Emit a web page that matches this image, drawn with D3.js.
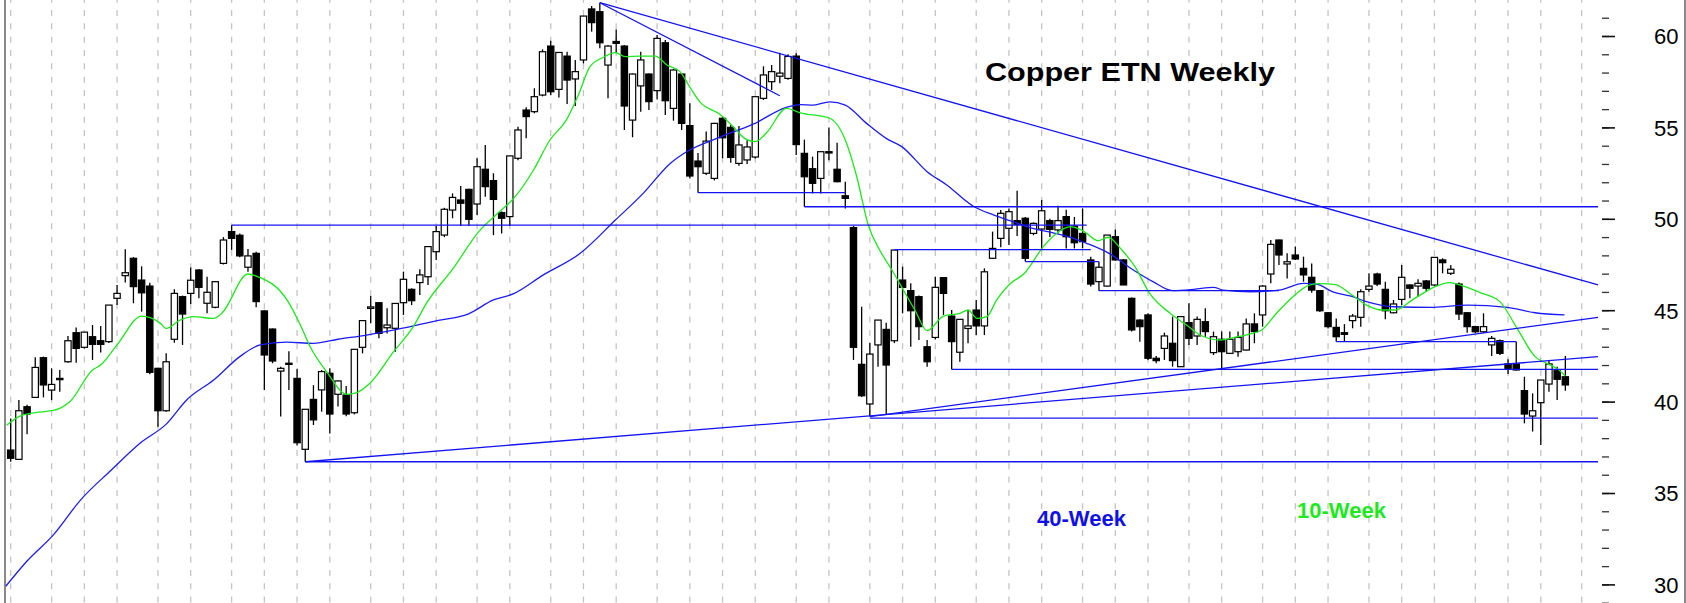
<!DOCTYPE html>
<html>
<head>
<meta charset="utf-8">
<script src="https://cdn.jsdelivr.net/npm/d3@7"></script>
<style>
  html, body { margin: 0; padding: 0; background: #fff; }
  svg { display: block; font-family: "Liberation Sans", Arial, sans-serif; }
</style>
</head>
<body>
<svg id="chart" width="1686" height="603"></svg>
<script>
// weekly candles
const opens = [37.35,36.84,39.72,40.23,42.4,40.63,41.27,42.18,43.77,42.97,43.55,43.33,43.28,45.65,46.89,47.84,46.65,46.32,41.82,39.5,
  43.41,45.74,45.92,47.2,45.38,45.16,47.56,49.3,49.1,47.35,48.11,44.96,43.97,41.67,42.05,41.27,37.39,40.12,40.64,41.55,
  40.4,40.36,39.39,42.97,45.1,45.41,44.04,44.01,45.41,46.14,46.51,46.83,48.2,49.11,50.48,51.03,51.61,50.81,52.71,52.09,
  50.34,50.12,53.31,55.95,55.86,56.77,59.45,57.08,58.9,57.65,58.69,61.48,61.33,58.41,59.7,59.45,55.4,57.27,57.92,57.01,
  59.63,56.04,57.92,55.1,53.16,52.49,52.21,55.5,55.0,53.03,53.22,53.38,56.59,57.5,57.8,57.68,58.9,53.58,52.74,52.21,
  53.67,52.71,51.26,49.52,42.04,39.87,43.1,43.95,43.33,46.65,46.07,45.74,43.0,43.51,46.78,44.68,42.7,44.0,45.01,44.14,
  47.84,48.93,49.48,49.9,50.03,49.2,49.44,49.9,49.39,50.12,49.6,49.2,47.75,46.56,46.32,49.02,47.75,45.65,44.46,44.74,
  42.37,42.91,43.19,41.91,44.32,43.59,44.37,42.68,43.41,42.64,42.73,42.82,44.25,44.74,46.98,48.84,47.53,48.02,47.29,46.8,
  46.07,44.86,44.06,43.77,44.43,44.61,46.14,46.98,46.14,44.86,45.59,46.38,46.32,46.6,46.38,47.75,47.02,46.43,44.86,44.1,
  43.82,43.1,43.33,42.06,42.06,40.6,39.21,39.94,40.96,41.69,41.36];
const highs = [39.08,40.09,39.83,42.42,42.46,41.82,41.73,43.59,44.06,43.8,44.19,44.14,45.28,46.38,48.33,47.9,47.4,46.5,41.85,42.64,
  46.14,45.8,47.33,47.25,46.83,46.6,49.0,49.65,49.2,48.35,48.2,45.0,44.0,41.9,42.75,41.8,39.6,40.9,41.73,41.82,
  41.15,40.85,42.86,44.45,45.78,45.45,45.1,45.4,47.11,46.2,47.24,48.5,49.6,50.6,51.39,51.79,51.65,53.31,54.04,52.49,
  50.4,53.45,55.04,56.1,57.14,59.27,59.74,59.1,59.14,58.69,61.1,61.64,61.82,59.5,60.36,59.5,57.95,59.14,57.95,60.05,
  59.78,58.2,57.95,56.32,53.6,54.77,55.25,55.6,55.13,55.08,54.3,56.7,58.34,58.41,59.09,59.0,59.05,54.33,53.4,53.67,
  55.0,54.16,52.03,49.6,45.19,43.22,44.46,44.32,48.29,47.38,46.47,45.8,43.37,46.83,46.8,45.01,44.5,45.01,45.56,47.29,
  49.3,50.48,50.57,51.54,50.1,49.8,51.03,50.0,50.72,50.5,50.1,50.57,47.93,47.65,49.11,49.42,47.8,45.7,44.5,44.83,
  42.5,43.77,44.65,44.65,45.38,44.65,45.1,43.83,43.83,43.83,43.83,44.55,44.83,46.38,48.84,48.86,48.11,48.48,47.93,47.56,
  46.1,44.9,44.55,44.24,44.79,46.14,47.02,47.05,46.56,45.56,47.47,46.4,46.69,46.65,47.89,47.84,47.47,46.51,44.9,44.15,
  44.83,43.59,43.4,42.31,43.28,41.36,40.45,41.18,42.28,41.91,42.49];
const lows = [36.71,36.8,38.21,40.2,40.23,40.09,40.54,42.13,42.13,42.9,42.28,42.68,43.2,45.28,46.51,45.38,44.92,41.5,38.63,39.45,
  43.22,43.1,45.34,45.65,44.83,45.1,47.5,48.3,47.9,47.1,45.16,40.63,42.1,39.18,40.63,37.6,36.71,38.72,39.45,38.26,
  39.73,39.2,39.3,42.64,44.28,43.46,43.73,42.73,44.74,45.28,45.83,46.38,47.75,49.0,50.03,49.6,49.6,50.21,51.21,49.11,
  49.2,49.6,53.2,54.4,55.77,56.7,56.77,56.64,56.28,56.17,58.5,60.24,59.33,56.59,59.09,54.86,54.46,55.86,55.95,56.53,
  55.68,55.37,54.86,52.2,51.43,52.4,52.1,53.31,53.07,52.9,53.0,53.3,56.5,57.05,57.41,57.6,53.49,50.66,51.39,51.39,
  53.2,52.0,50.57,42.28,40.25,39.18,41.9,39.27,43.2,44.83,43.0,43.37,41.9,43.4,44.74,41.76,42.18,43.19,43.64,43.64,
  47.8,48.44,48.57,49.06,47.66,49.1,48.29,49.0,49.2,48.38,48.38,48.38,46.29,46.07,46.3,47.7,46.38,43.83,43.28,42.28,
  42.1,42.28,41.91,41.9,43.1,43.1,43.55,42.55,41.82,42.6,42.46,42.8,43.19,44.1,46.47,47.47,46.74,47.75,46.56,45.96,
  44.9,44.0,43.28,43.28,44.01,44.1,46.01,46.32,44.5,44.83,45.28,45.65,45.74,46.0,46.3,47.02,46.93,44.46,43.77,43.75,
  43.75,42.49,42.55,41.51,41.7,38.81,38.36,37.63,40.54,40.09,40.6];
const closes = [36.9,39.5,39.32,41.87,40.91,40.94,41.2,43.33,42.91,43.8,43.13,43.13,45.28,45.92,47.05,46.29,45.95,41.6,39.5,42.18,
  45.92,44.79,46.64,46.25,45.98,46.56,48.84,48.93,47.97,47.97,45.47,42.55,42.22,41.82,42.1,37.75,39.58,39.0,41.64,39.32,
  41.13,39.32,42.86,44.43,45.18,43.73,44.19,45.37,46.69,45.52,46.93,48.48,49.3,50.52,51.17,50.85,49.97,52.85,51.76,51.06,
  50.03,53.44,54.86,55.59,56.68,59.14,56.95,59.1,57.59,58.05,61.09,60.73,59.63,59.45,59.6,56.17,57.92,58.69,56.41,59.87,
  56.46,58.14,55.22,52.34,52.85,54.25,55.22,54.43,53.36,54.04,53.93,56.68,57.87,58.05,57.97,58.88,54.06,52.3,51.94,53.67,
  53.6,52.03,51.12,42.97,40.32,42.6,44.46,42.0,48.29,46.25,44.97,44.1,42.18,46.25,45.92,43.28,44.5,44.14,44.14,47.1,
  48.38,50.3,50.39,49.7,47.84,49.75,50.44,49.42,49.9,49.02,48.69,48.75,46.43,47.35,49.11,47.75,46.38,43.92,44.1,42.37,
  42.24,43.59,42.24,44.65,43.46,44.5,43.83,43.55,42.73,43.41,43.51,44.25,43.83,46.32,48.6,48.02,47.65,47.8,46.93,46.1,
  44.97,44.1,43.55,43.68,44.68,46.01,46.32,46.43,44.97,45.34,46.8,46.2,46.47,46.2,47.89,47.6,47.24,44.79,44.1,43.82,
  44.1,43.46,42.64,41.82,41.73,39.32,39.5,41.18,42.06,41.22,40.91];

// first week of each month (dashed grid)
const monthStarts = [0,5,9,13,18,22,27,31,35,39,44,48,52,57,61,66,70,74,79,83,87,91,96,100,105,109,113,118,122,126,
  131,135,139,144,148,153,157,161,166,170,174,179,183,187,192];

// moving averages: [week, value]
const ma10 = [[-0.5,38.7],[1,39.18],[3,39.4],[5,39.5],[6,39.63],[7.25,40.0],[10,41.73],[11,42.0],[13,43.1],[16,44.68],
  [18.3,44.28],[19,44.0],[20.7,44.46],[22.3,44.65],[24.8,44.55],[25.8,44.83],[29,46.98],[30,46.87],[33.9,45.47],[35.4,44.19],
  [36.6,43.0],[38.6,41.64],[41.1,40.4],[42.3,40.49],[43.9,41.0],[46.8,42.73],[49.2,44.1],[50.8,45.37],[54.1,47.3],[57.2,49.3],
  [59.9,50.45],[61.4,51.08],[63.9,52.67],[65.9,54.31],[67.9,55.4],[69.4,56.8],[70.8,58.32],[72.5,58.85],[73.9,59.09],[75.1,58.87],
  [76.9,58.9],[78.8,58.9],[80.2,58.41],[81.8,58.05],[83.0,57.2],[84.2,56.41],[86.7,55.7],[88.3,55.04],[89.7,54.4],[91,54.22],
  [92.4,54.72],[94.8,56.04],[96.5,55.8],[100.1,55.5],[102,54.31],[103.4,52.3],[104.8,49.66],[106.2,48.29],[107.7,47.2],[109.1,46.1],
  [110.5,45.01],[112,43.88],[114,44.68],[116,44.83],[117,45.01],[118.1,44.55],[119.3,44.65],[120.5,45.56],[122.1,46.43],[123.9,47.02],
  [126.2,48.48],[127.8,49.2],[129.5,49.57],[130.7,49.42],[131.5,49.2],[132.9,48.8],[134.1,48.99],[135.8,48.29],[137.4,47.38],[139.2,45.92],
  [141.7,44.83],[143.7,44.19],[145.6,43.59],[147.8,43.37],[149.6,43.51],[151.5,43.7],[152.9,43.92],[154.7,44.83],[156.7,45.74],[158.8,46.38],
  [160,46.45],[161.9,46.4],[163.7,45.9],[165.7,45.28],[167.6,45.01],[169.2,45.01],[171.4,45.59],[173.9,46.25],[175.9,46.51],[177.1,46.38],
  [179.6,45.96],[182,45.47],[184.1,44.01],[186.3,42.46],[187.9,42.06],[189.1,41.77],[190,41.4]];
const ma40 = [[-0.6,29.9],[2,31.28],[5.3,32.75],[8.5,34.6],[12.3,36.26],[15.8,37.72],[19.1,38.81],[21.5,40.09],[24.8,41.18],[28,42.46],
  [30.5,43.1],[33.7,43.25],[37,43.19],[40,43.41],[43.5,43.64],[47.2,43.95],[52.1,44.43],[55.9,44.79],[59,45.56],[61.4,45.89],
  [65.1,46.93],[69.6,48.11],[73.9,49.93],[77.3,51.39],[80.6,53.03],[82.6,53.67],[86.3,54.4],[90.8,55.19],[94.8,56.1],[96.5,56.25],
  [98.1,56.22],[100.1,56.4],[102,56.22],[104.6,55.22],[107,54.4],[108.9,53.95],[112,52.58],[114.4,51.85],[117.6,50.7],[120.1,50.21],
  [122.5,49.84],[124.9,49.48],[127.5,49.22],[129.5,48.99],[131.5,48.66],[134.4,48.07],[137.2,47.2],[139.6,46.56],[142,46.07],[144.6,46.14],
  [147,46.25],[148.2,46.1],[151.5,46.01],[155,46.1],[158,46.47],[159.6,46.43],[161.6,46.0],[163.7,45.78],[165.7,45.47],[169,45.19],
  [173.9,45.16],[178,45.28],[182.9,45.16],[186.3,44.86],[189.9,44.74]];

// hand-drawn support / resistance lines: [[week, price], [week, price]]
const trendLines = [
  [[27,49.65],[131.5,49.65]],
  [[84,51.43],[102,51.43]],
  [[97,50.66],[194,50.66]],
  [[108,48.31],[132,48.31]],
  [[124,47.66],[133,47.66]],
  [[133,46.07],[155,46.07]],
  [[115,41.76],[194,41.76]],
  [[105,39.1],[194,39.1]],
  [[36,36.71],[194,36.71]],
  [[162,43.28],[184,43.28]],
  [[36,36.71],[194,42.46]],
  [[105,39.18],[194,44.61]],
  [[72,61.82],[194,46.38]],
  [[72,61.82],[94,56.73]]
];

const priceTicks = [30, 35, 40, 45, 50, 55, 60];
const minorTicks = d3.range(29, 62);

const svg = d3.select('#chart');
const W = 1686, H = 603;

const x = d3.scaleLinear().domain([0, 192]).range([10.7, 1581.7]);
const y = d3.scaleLinear().domain([30, 60]).range([584.4, 36]);

const candles = opens.map((o, i) => ({i, o, h: highs[i], l: lows[i], c: closes[i]}));

svg.append('defs').append('clipPath').attr('id', 'plot')
  .append('rect').attr('x', 5).attr('y', 0).attr('width', 1596).attr('height', H);

// dashed monthly grid
svg.append('g').selectAll('line')
  .data(monthStarts)
  .enter().append('line')
  .attr('x1', d => x(d)).attr('x2', d => x(d))
  .attr('y1', 0).attr('y2', H)
  .attr('stroke', '#c4c4c4')
  .attr('stroke-width', 1.3)
  .attr('stroke-dasharray', '6,7.33')
  .attr('stroke-dashoffset', 3.3);

// borders
svg.append('line').attr('x1', 5).attr('x2', 5).attr('y1', 0).attr('y2', H)
  .attr('stroke', '#8a8a8a').attr('stroke-width', 2);
svg.append('line').attr('x1', 1685).attr('x2', 1685).attr('y1', 0).attr('y2', H)
  .attr('stroke', '#8a8a8a').attr('stroke-width', 2);

const plot = svg.append('g').attr('clip-path', 'url(#plot)');

// candles
const bw = 6.3;
const cg = plot.append('g');
cg.selectAll('.wick')
  .data(candles)
  .enter().append('line')
  .attr('class', 'wick')
  .attr('x1', d => x(d.i)).attr('x2', d => x(d.i))
  .attr('y1', d => y(d.h)).attr('y2', d => y(d.l))
  .attr('stroke', '#000')
  .attr('stroke-width', 1.3);
cg.selectAll('.body')
  .data(candles)
  .enter().append('rect')
  .attr('class', 'body')
  .attr('x', d => x(d.i) - bw / 2)
  .attr('y', d => y(Math.max(d.o, d.c)))
  .attr('width', bw)
  .attr('height', d => Math.max(1.2, Math.abs(y(d.o) - y(d.c))))
  .attr('fill', d => d.c >= d.o ? '#fff' : '#000')
  .attr('stroke', '#000')
  .attr('stroke-width', 1.2);

// moving averages
const maLine = d3.line()
  .x(d => x(d[0]))
  .y(d => y(d[1]))
  .curve(d3.curveMonotoneX);

plot.append('path')
  .attr('d', maLine(ma40))
  .attr('fill', 'none')
  .attr('stroke', '#1c1cf5')
  .attr('stroke-width', 1.3);

plot.append('path')
  .attr('d', maLine(ma10))
  .attr('fill', 'none')
  .attr('stroke', '#1ee81e')
  .attr('stroke-width', 1.3);

// trend lines
plot.append('g').selectAll('line')
  .data(trendLines)
  .enter().append('line')
  .attr('x1', d => x(d[0][0])).attr('y1', d => y(d[0][1]))
  .attr('x2', d => x(d[1][0])).attr('y2', d => y(d[1][1]))
  .attr('stroke', '#1414f0')
  .attr('stroke-width', 1.3);

// right price axis
const axisX = 1602;
svg.append('g')
  .attr('transform', `translate(${axisX},0)`)
  .call(d3.axisRight(y).tickValues(minorTicks).tickSize(7).tickFormat(''))
  .call(g => g.select('.domain').remove())
  .call(g => g.selectAll('line').attr('stroke', '#333').attr('stroke-width', 1.3));

svg.append('g')
  .attr('transform', `translate(${axisX},0)`)
  .call(d3.axisRight(y).tickValues(priceTicks).tickSize(13).tickFormat(d3.format('d')))
  .call(g => g.select('.domain').remove())
  .call(g => g.selectAll('line').attr('stroke', '#111').attr('stroke-width', 1.6))
  .call(g => g.selectAll('text')
    .attr('x', 52)
    .attr('dy', '0.36em')
    .attr('fill', '#000')
    .style('font-size', '22px')
    .style('font-family', '"Liberation Sans", Arial, sans-serif'));

// labels
svg.append('text')
  .attr('x', 985).attr('y', 81)
  .attr('font-size', 26).attr('font-weight', 'bold')
  .attr('textLength', 290).attr('lengthAdjust', 'spacingAndGlyphs')
  .attr('fill', '#000')
  .text('Copper ETN Weekly');

svg.append('text')
  .attr('x', 1037).attr('y', 526)
  .attr('font-size', 22).attr('font-weight', 'bold')
  .attr('fill', '#1010e8')
  .text('40-Week');

svg.append('text')
  .attr('x', 1297).attr('y', 518)
  .attr('font-size', 22).attr('font-weight', 'bold')
  .attr('fill', '#1ee81e')
  .text('10-Week');
</script>
</body>
</html>
